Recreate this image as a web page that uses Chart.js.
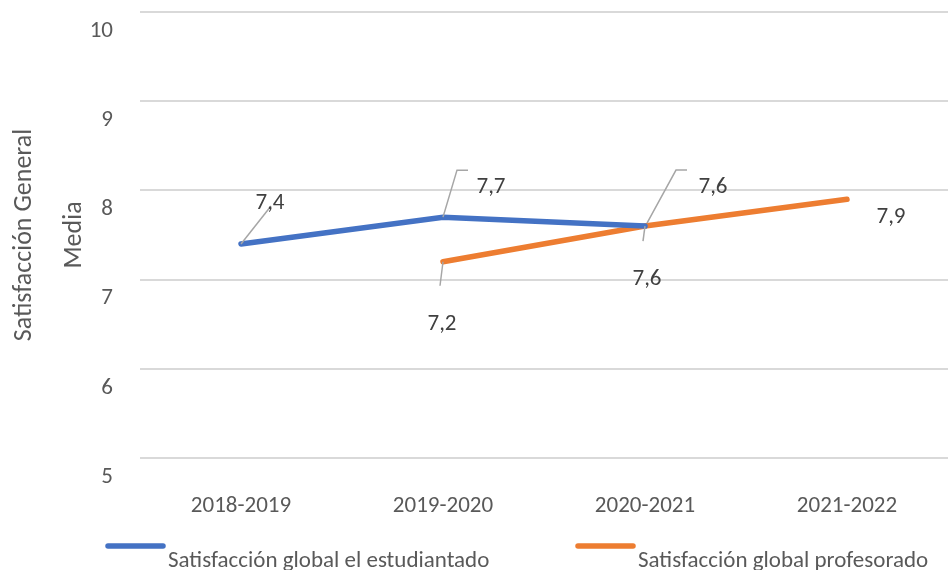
<!DOCTYPE html>
<html lang="es">
<head>
<meta charset="UTF-8">
<title>Satisfacción General</title>
<script src="https://cdn.jsdelivr.net/npm/chart.js"></script>
<style>
  html, body { margin: 0; padding: 0; background: #fff; }
  #wrap { width: 948px; height: 570px; }
</style>
</head>
<body>
<div id="wrap"><canvas id="grafico"></canvas></div>
<script>
// datos
const cursos = ['2018-2019', '2019-2020', '2020-2021', '2021-2022'];
const estudiantado = [7.4, 7.7, 7.6, null];
const profesorado = [null, 7.2, 7.6, 7.9];
const ticksY = [5, 6, 7, 8, 9, 10];

const FUENTE = "Carlito, 'Liberation Sans Narrow', 'Open Sans', sans-serif";
const GRIS = '#595959';

// posicion de las etiquetas de datos y sus lineas guia (px respecto al punto)
const etiquetas = [
  [{ tx: 29, ty: -41, guia: [[0, 0], [30, -38]] },
   { tx: 48, ty: -30, guia: [[0, 0], [14, -47], [25, -47]] },
   { tx: 68, ty: -39, guia: [[2, -3], [31, -56], [42, -56]] },
   null],
  [null,
   { tx: -1, ty: 62, guia: [[0, 0], [-3, 24]] },
   { tx: 2, ty: 53, guia: [[0, 0], [-2, 15]] },
   { tx: 44, ty: 18, guia: null }]
];

const pluginEtiquetas = {
  id: 'etiquetas',
  afterDatasetsDraw(chart) {
    const ctx = chart.ctx;
    ctx.save();
    chart.data.datasets.forEach((ds, i) => {
      const meta = chart.getDatasetMeta(i);
      meta.data.forEach((pt, j) => {
        const v = ds.data[j];
        const conf = etiquetas[i][j];
        if (v === null || !conf) return;
        if (conf.guia) {
          ctx.strokeStyle = '#a6a6a6';
          ctx.lineWidth = 1.5;
          ctx.beginPath();
          conf.guia.forEach(([dx, dy], k) => {
            if (k === 0) ctx.moveTo(pt.x + dx, pt.y + dy);
            else ctx.lineTo(pt.x + dx, pt.y + dy);
          });
          ctx.stroke();
        }
        ctx.fillStyle = '#404040';
        ctx.font = '23px ' + FUENTE;
        ctx.textAlign = 'center';
        ctx.textBaseline = 'middle';
        ctx.fillText(String(v).replace('.', ','), pt.x + conf.tx, pt.y + conf.ty);
      });
    });
    ctx.restore();
  }
};

// leyenda propia: linea arriba, texto algo mas abajo
const pluginLeyenda = {
  id: 'leyenda',
  afterDraw(chart) {
    const ctx = chart.ctx;
    const xs = [105, 575];
    ctx.save();
    chart.data.datasets.forEach((ds, i) => {
      const x = xs[i];
      ctx.strokeStyle = ds.borderColor;
      ctx.lineWidth = 5.5;
      ctx.lineCap = 'round';
      ctx.beginPath();
      ctx.moveTo(x + 3, 546);
      ctx.lineTo(x + 58, 546);
      ctx.stroke();
      ctx.fillStyle = GRIS;
      ctx.font = '23px ' + FUENTE;
      ctx.textAlign = 'left';
      ctx.textBaseline = 'alphabetic';
      ctx.fillText(ds.label, x + 63, 567);
    });
    ctx.restore();
  }
};

new Chart(document.getElementById('grafico'), {
  type: 'line',
  data: {
    labels: cursos,
    datasets: [{
      label: 'Satisfacción global el estudiantado',
      data: estudiantado,
      borderColor: '#4472C4',
      backgroundColor: '#4472C4',
      borderWidth: 5.5,
      borderCapStyle: 'round',
      pointRadius: 0,
      tension: 0
    }, {
      label: 'Satisfacción global profesorado',
      data: profesorado,
      borderColor: '#ED7D31',
      backgroundColor: '#ED7D31',
      borderWidth: 5.5,
      borderCapStyle: 'round',
      pointRadius: 0,
      tension: 0
    }]
  },
  options: {
    responsive: true,
    maintainAspectRatio: false,
    animation: false,
    layout: { padding: { top: 12, right: 0, bottom: 0, left: 0 } },
    plugins: {
      legend: { display: false },
      tooltip: { enabled: false }
    },
    scales: {
      x: {
        offset: true,
        grid: { display: false, drawTicks: false },
        border: { display: false },
        ticks: { color: GRIS, font: { family: FUENTE, size: 23 }, padding: 34 },
        afterFit(scale) {
          scale.height = 112;
          scale.paddingTop = 0;
          scale.paddingBottom = 0;
        }
      },
      y: {
        min: 5,
        max: 10,
        afterBuildTicks(scale) { scale.ticks = ticksY.map(v => ({ value: v })); },
        grid: { color: '#d9d9d9', lineWidth: 2, drawTicks: false },
        border: { display: false },
        ticks: { color: GRIS, font: { family: FUENTE, size: 23 }, padding: 27, labelOffset: 19 },
        title: {
          display: true,
          text: ['Satisfacción General', 'Media'],
          color: GRIS,
          font: { family: FUENTE, size: 26, lineHeight: 1.9 },
          padding: 0
        },
        afterFit(scale) {
          scale.width = 140;
          scale.paddingTop = 0;
          scale.paddingBottom = 0;
        }
      }
    }
  },
  plugins: [pluginEtiquetas, pluginLeyenda]
});
</script>
</body>
</html>
